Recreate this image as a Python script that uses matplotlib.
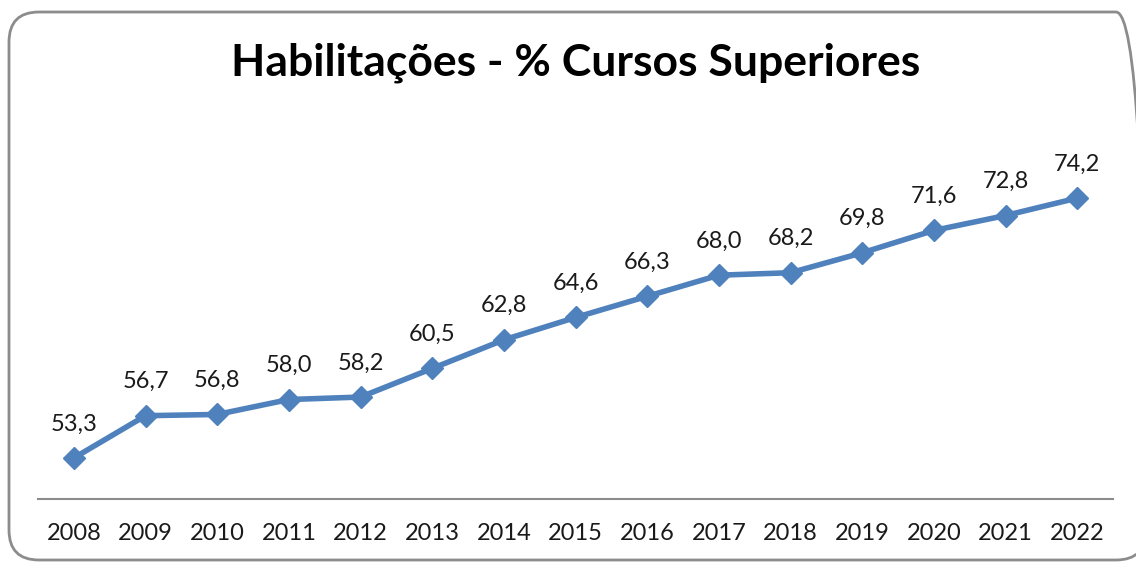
import matplotlib
matplotlib.use("Agg")
import matplotlib.pyplot as plt
from matplotlib.patches import FancyBboxPatch

# dados do gráfico
anos = ["2008", "2009", "2010", "2011", "2012", "2013", "2014", "2015",
        "2016", "2017", "2018", "2019", "2020", "2021", "2022"]
valores = [53.3, 56.7, 56.8, 58.0, 58.2, 60.5, 62.8, 64.6,
           66.3, 68.0, 68.2, 69.8, 71.6, 72.8, 74.2]
titulo = "Habilitações - % Cursos Superiores"

plt.rcParams["font.family"] = ["Lato", "DejaVu Sans"]

fig = plt.figure(figsize=(11.36, 5.63), dpi=100)

# moldura arredondada (em polegadas, atrás dos eixos)
borda = FancyBboxPatch((0.09, 0.03), 11.37, 5.48,
                       boxstyle="round,pad=0,rounding_size=0.3",
                       transform=fig.dpi_scale_trans, facecolor="none",
                       edgecolor="#8c8c8c", linewidth=2, zorder=-1)
fig.patches.append(borda)

ax = fig.add_axes([38 / 1136, 64 / 563, 1075 / 1136, 373 / 563])
ax.set_facecolor("none")
x = range(len(anos))
ax.plot(x, valores, color="#4F81BD", linewidth=4, marker="D",
        markersize=11, solid_joinstyle="round")

for xi, v in zip(x, valores):
    ax.annotate(f"{v:.1f}".replace(".", ","), (xi, v), xytext=(0, 17),
                textcoords="offset points", ha="center", va="bottom",
                fontsize=17, color="#1a1a1a")

ax.set_xlim(-0.5, len(anos) - 0.5)
ax.set_ylim(50, 80)
ax.set_xticks(list(x))
ax.set_xticklabels(anos, fontsize=17, color="#1a1a1a")
ax.tick_params(axis="x", length=0, pad=17)
ax.set_yticks([])
for s in ["top", "right", "left"]:
    ax.spines[s].set_visible(False)
ax.spines["bottom"].set_color("#8c8c8c")
ax.spines["bottom"].set_linewidth(1.5)

fig.text(576 / 1136, 1 - 63 / 563, titulo, ha="center", va="center",
         fontsize=32, fontweight="bold", color="black")

fig.savefig("out.png", dpi=100)
